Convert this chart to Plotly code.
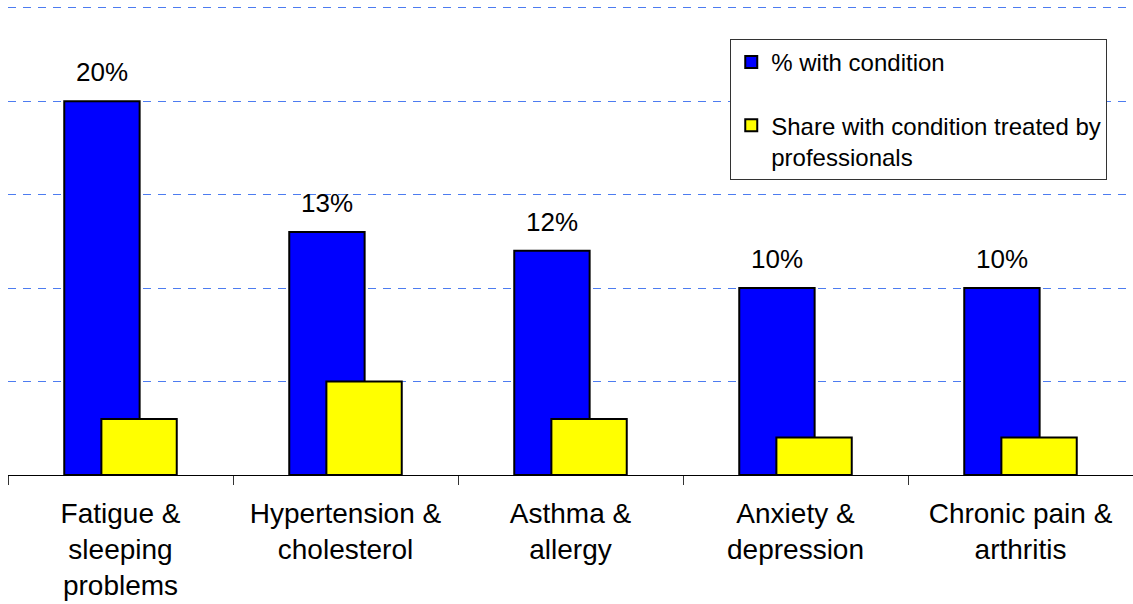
import plotly.graph_objects as go

categories = [
    "Fatigue &<br>sleeping<br>problems",
    "Hypertension &<br>cholesterol",
    "Asthma &<br>allergy",
    "Anxiety &<br>depression",
    "Chronic pain &<br>arthritis",
]
with_condition = [20, 13, 12, 10, 10]
treated_share = [3, 5, 3, 2, 2]

series_names = ["% with condition", "Share with condition treated by<br>professionals"]

FONT = "Arial, 'Liberation Sans', sans-serif"
BAR_W = 0.335
BLUE_OFF = -0.25
YELLOW_OFF = -0.085

fig = go.Figure()
fig.add_trace(go.Bar(
    x=categories, y=with_condition, name=series_names[0],
    marker=dict(color="#0000ff", line=dict(color="#000000", width=2)),
    width=BAR_W, offset=BLUE_OFF, legendgroup="a",
))
fig.add_trace(go.Bar(
    x=categories, y=treated_share, name=series_names[1],
    marker=dict(color="#ffff00", line=dict(color="#000000", width=2)),
    width=BAR_W, offset=YELLOW_OFF, legendgroup="b",
))

# value labels above the blue bars
for i, v in enumerate(with_condition):
    fig.add_annotation(
        x=i + BLUE_OFF + BAR_W / 2, y=v, text=f"{v:.0f}%",
        showarrow=False, yanchor="bottom", yshift=12,
        font=dict(family=FONT, size=26, color="#000000"),
    )

fig.update_layout(
    width=1133, height=604,
    margin=dict(l=8, r=0, t=4, b=129),
    paper_bgcolor="white", plot_bgcolor="white",
    barmode="overlay",
    showlegend=True,
    legend=dict(
        x=0.642, y=0.926, xanchor="left", yanchor="top",
        bordercolor="#333333", borderwidth=1, bgcolor="white",
        font=dict(family=FONT, size=24, color="#000000"),
        tracegroupgap=29, traceorder="grouped", valign="top",
    ),
    font=dict(family=FONT, color="#000000"),
)
fig.update_xaxes(
    type="category", showline=True, linecolor="#000000", linewidth=1,
    ticks="outside", tickson="boundaries", ticklen=9, tickcolor="#333333",
    tickfont=dict(family=FONT, size=28, color="#000000"),
    showgrid=False, range=[-0.5, 4.5], ticklabelstandoff=13,
)
fig.update_yaxes(
    range=[0, 25.2], tickvals=[5, 10, 15, 20, 25], showticklabels=False,
    zeroline=False, showgrid=True, gridcolor="#4d7cf0", gridwidth=1,
    griddash="8px,7px",
)

fig.write_html("out.html")
